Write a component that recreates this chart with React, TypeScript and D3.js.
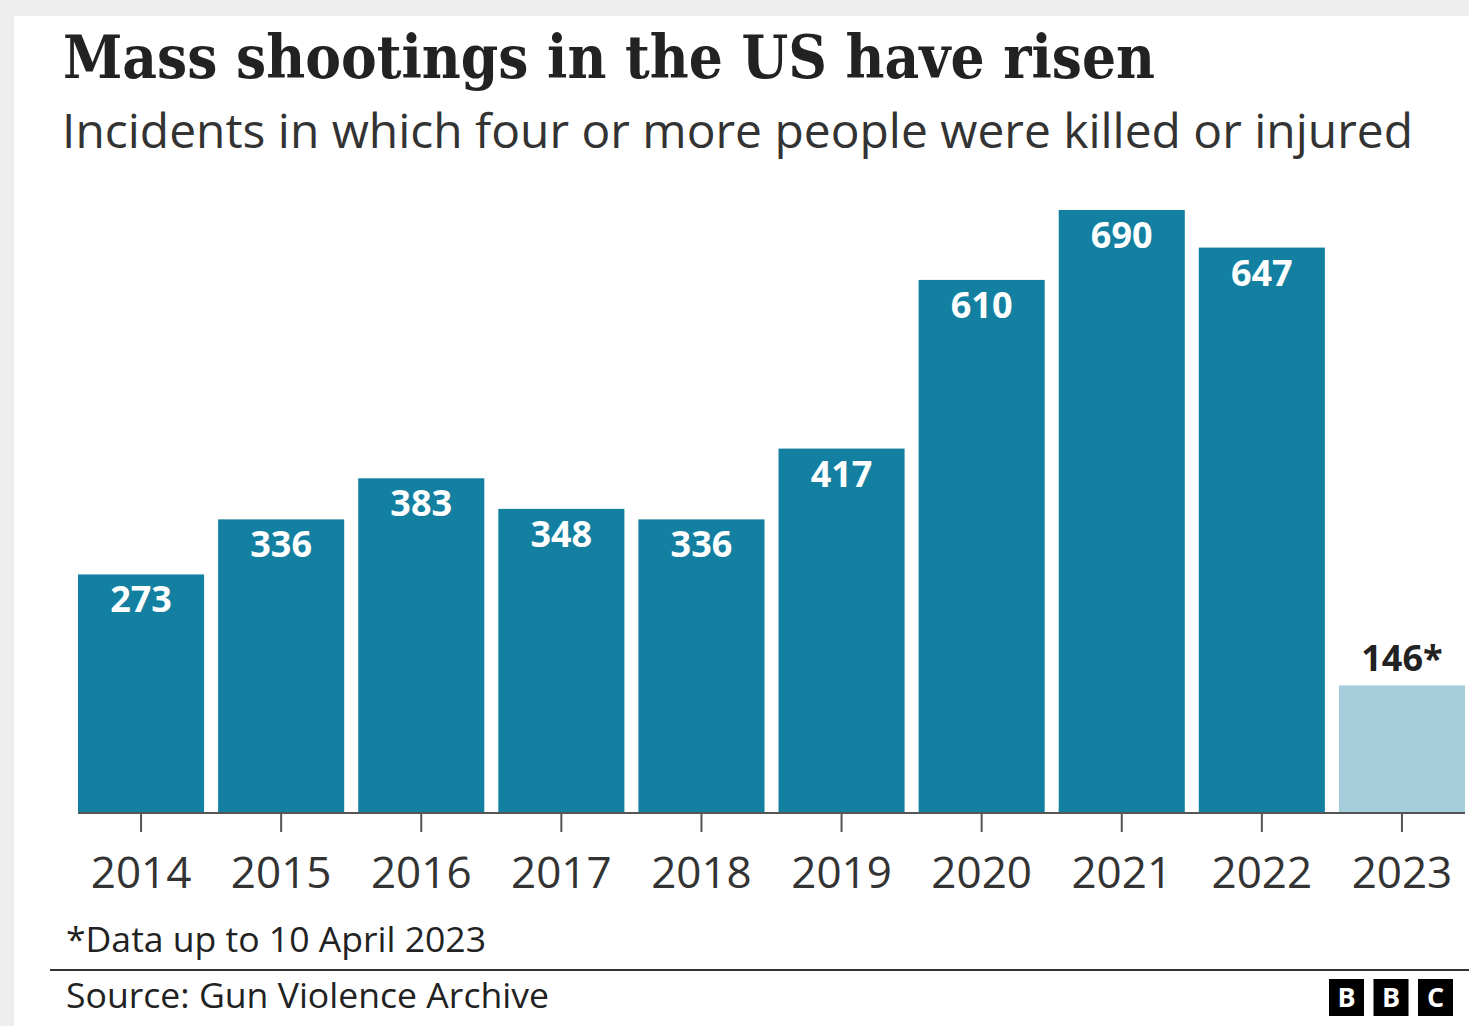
import React from "react";
import * as d3 from "d3";

const years = ["2014", "2015", "2016", "2017", "2018", "2019", "2020", "2021", "2022", "2023"];
const incidents = [273, 336, 383, 348, 336, 417, 610, 690, 647, 146];
const partial = [false, false, false, false, false, false, false, false, false, true];

const W = 1469;
const H = 1026;

export default function App() {
  const x = d3.scaleBand<string>().domain(years).range([71, 1472]).paddingInner(0.1).paddingOuter(0.05);
  const y = d3.scaleLinear().domain([0, 690]).range([813, 210]);
  const sans = "'Open Sans', 'Noto Sans', sans-serif";
  const serif = "'DejaVu Serif', serif";
  const x0 = x(years[0])!;
  const x1 = x(years[years.length - 1])! + x.bandwidth();

  return (
    <svg width={W} height={H} style={{ position: "absolute", left: 0, top: 0 }}>
      <rect x={0} y={0} width={W} height={H} fill="#eeeeee" />
      <rect x={14} y={16} width={W - 14} height={H - 16} fill="#ffffff" />
      <text x={63} y={78} fontFamily={serif} fontWeight="bold" fontSize={60} fill="#222"
        textLength={1092} lengthAdjust="spacingAndGlyphs">Mass shootings in the US have risen</text>
      <text x={62} y={148} fontFamily={sans} fontSize={47} fill="#333"
        textLength={1351} lengthAdjust="spacingAndGlyphs">Incidents in which four or more people were killed or injured</text>

      {years.map((yr, i) => {
        const bx = x(yr)!;
        const by = y(incidents[i]);
        const cx = bx + x.bandwidth() / 2;
        return (
          <g key={yr}>
            <rect x={bx} y={by} width={x.bandwidth()} height={y(0) - by}
              fill={partial[i] ? "#a5cddb" : "#1380a1"} />
            {partial[i] ? (
              <text x={cx} y={by - 14} textAnchor="middle" fontFamily={sans} fontWeight="bold"
                fontSize={36} fill="#222">{incidents[i]}*</text>
            ) : (
              <text x={cx} y={by + 38} textAnchor="middle" fontFamily={sans} fontWeight="bold"
                fontSize={36} fill="#ffffff">{incidents[i]}</text>
            )}
            <line x1={cx} x2={cx} y1={813} y2={832} stroke="#555" strokeWidth={2} />
            <text x={cx} y={888} textAnchor="middle" fontFamily={sans} fontSize={44} fill="#333">{yr}</text>
          </g>
        );
      })}
      <line x1={x0} x2={x1} y1={y(0)} y2={y(0)} stroke="#555" strokeWidth={2} />

      <text x={66} y={952} fontFamily={sans} fontSize={34} fill="#222"
        textLength={420} lengthAdjust="spacingAndGlyphs">*Data up to 10 April 2023</text>
      <line x1={50} x2={W} y1={970} y2={970} stroke="#333" strokeWidth={2} />
      <text x={66} y={1008} fontFamily={sans} fontSize={34} fill="#222"
        textLength={483} lengthAdjust="spacingAndGlyphs">Source: Gun Violence Archive</text>

      {["B", "B", "C"].map((l, i) => (
        <g key={i}>
          <rect x={1329 + i * 44.5} y={979} width={35} height={37} fill="#000" />
          <text x={1329 + i * 44.5 + 17.5} y={1007} textAnchor="middle" fontFamily={sans}
            fontWeight="bold" fontSize={27} fill="#fff">{l}</text>
        </g>
      ))}
    </svg>
  );
}
